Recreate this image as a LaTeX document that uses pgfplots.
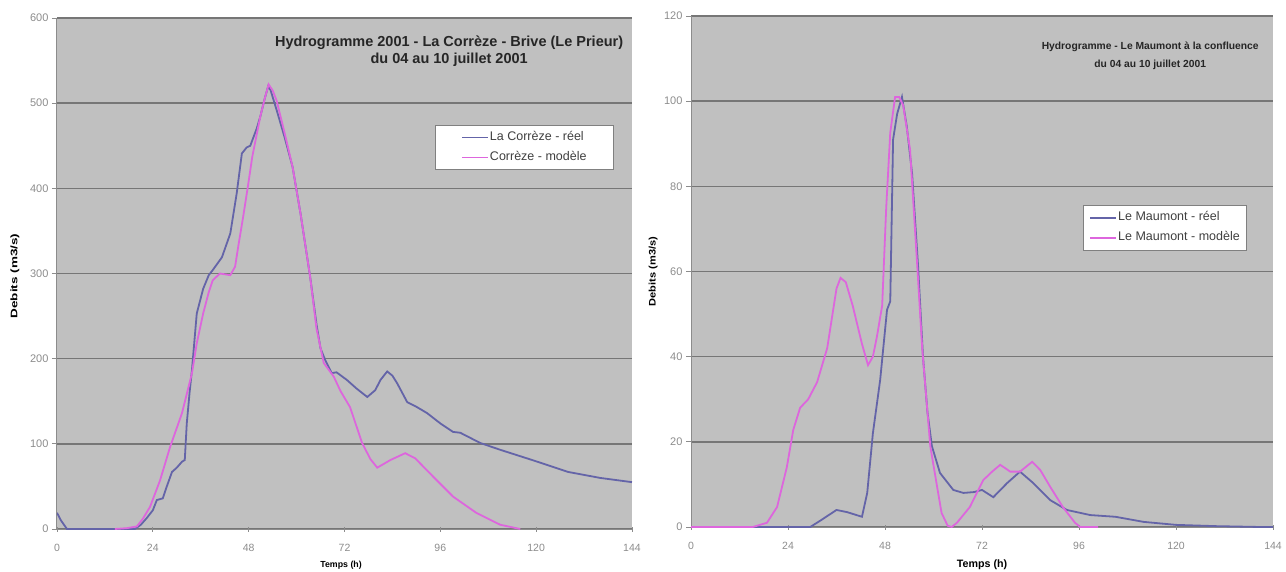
\documentclass[border=0pt]{standalone}
\usepackage{fontspec}
\setmainfont{Liberation Sans}
\usepackage{pgfplots}
\pgfplotsset{compat=1.18}
\definecolor{reel}{HTML}{6464A8}
\definecolor{modele}{HTML}{DD66DD}
\definecolor{plotbg}{HTML}{C0C0C0}
\definecolor{gridc}{HTML}{767676}
\definecolor{tickc}{HTML}{8C8C8C}
\pgfplotsset{
  hydro/.style={
    scale only axis, anchor=south west,
    axis background/.style={fill=plotbg},
    axis x line*=bottom, axis y line*=left,
    axis line style={-, draw=tickc, line width=1pt},
    xmin=0, xmax=144, xtick={0,24,...,144},
    ymajorgrids, major grid style={gridc, line width=1.5pt},
    tick style={draw=tickc, line width=0.8pt},
    major tick length=5pt,
    xtick align=center, ytick align=outside,
    tick label style={text=tickc},
    yticklabel style={font=\fontsize{11}{13}\selectfont},
    xticklabel style={font=\fontsize{10.5}{12}\selectfont, yshift=-9pt},
    /pgf/number format/assume math mode=true,
    legend style={font=\fontsize{12.5}{14}\selectfont, text=black!75, draw=gray,
                  line width=0.8pt, fill=white, row sep=8.5pt, inner ysep=6.5pt,
                  anchor=north west,
                  nodes={inner xsep=1pt, inner ysep=0pt, text height=9pt, text depth=2.5pt}},
    legend cell align=left,
    every axis plot/.append style={line width=1.8pt},
  },
  serie reel/.style={draw=reel,
    legend image code/.code={\draw[draw=reel, line width=1.8pt] (0pt,0pt) -- (26pt,0pt);}},
  serie modele/.style={draw=modele,
    legend image code/.code={\draw[draw=modele, line width=1.8pt] (0pt,0pt) -- (26pt,0pt);}},
}
\tikzset{
  titre/.style={font=\bfseries, align=center, text=black!85},
}

\begin{document}
\begin{tikzpicture}
\useasboundingbox (0,0) rectangle (1286pt,571pt);

% --- La Correze ---
\begin{axis}[
  hydro, at={(57pt,42pt)}, width=575pt, height=511pt,
  ymin=0, ymax=600, ytick={0,100,...,600},
  xlabel={\fontsize{8.8}{10}\selectfont\bfseries Temps (h)},
  ylabel={\fontsize{9.5}{11}\selectfont\scalebox{1.42}[1]{\bfseries Debits (m3/s)}},
  xlabel style={at={(axis description cs:0.494,-0.07)}, anchor=center},
  ylabel style={at={(axis description cs:-0.073,0.495)}, anchor=center},
  legend style={at={(0.657,0.791)}, inner xsep=26pt},
]
\addplot[serie reel] coordinates {
  (0,19) (1,10) (2.5,0) (10,0) (19.5,0) (21,5) (22.5,13) (24,22) (25,34) (26.5,36)
  (27.5,50) (28.8,67) (30,72) (31.3,79) (32,81) (32.5,124) (33.2,160) (33.8,187)
  (35,253) (36.6,282) (38,298) (39,304) (41.3,319) (43.4,347) (45,394) (46.3,441)
  (47.5,448) (48.4,450) (50,470) (50.9,484) (52,505) (52.9,520) (53.5,515) (55,492)
  (57,460) (59,425) (61,370) (63.4,296) (65,240) (66,212) (67.2,198) (68.8,183)
  (70,184) (72.6,175) (75,165) (77.7,155) (79.7,163) (81,175) (82.7,185) (84,180)
  (85.2,171) (87.7,149) (90.2,143) (92.7,136) (96,124) (99.2,114) (101,113) (106,101)
  (111,93) (119,81) (128,67) (136,60) (144,55)
};
\addlegendentry{La Corrèze - réel}
\addplot[serie modele] coordinates {
  (14.5,0) (17.5,1) (20,3) (21.5,12) (23.3,26) (25.8,57) (28.3,96) (31.3,136)
  (33.8,183) (35,218) (36.6,253) (38,278) (39,292) (40.8,300) (43.4,298) (44.6,308)
  (45.5,335) (46.6,366) (47.8,402) (48.9,437) (50.9,484) (52,505) (53,522) (54,515)
  (55,503) (57,465) (59,425) (61,370) (63.4,296) (65,235) (66.8,195) (69.3,179)
  (71,162) (73.4,143) (76.4,101) (78.5,82) (80.2,72) (83.5,81) (87.2,89) (89.7,83)
  (92,72) (94.3,61) (99.2,38) (105,19) (111,5) (116,0)
};
\addlegendentry{Corrèze - modèle}
\node[titre, font=\fontsize{14.5}{17.5}\selectfont\bfseries] at (rel axis cs:0.682,0.935)
  {Hydrogramme 2001 - La Corrèze - Brive (Le Prieur)\\du 04 au 10 juillet 2001};
\end{axis}

% --- Le Maumont ---
\begin{axis}[
  hydro, at={(691pt,44pt)}, width=582pt, height=511pt,
  ymin=0, ymax=120, ytick={0,20,...,120},
  xlabel={\fontsize{10.7}{12}\selectfont\bfseries Temps (h)},
  ylabel={\fontsize{9.5}{11}\selectfont\scalebox{1.16}[1]{\bfseries Debits (m3/s)}},
  xlabel style={at={(axis description cs:0.5,-0.074)}, anchor=center},
  ylabel style={at={(axis description cs:-0.065,0.5)}, anchor=center},
  legend style={at={(0.6735,0.630)}, inner xsep=6pt},
]
\addplot[serie reel] coordinates {
  (0,0) (29.5,0) (32,1.5) (36,4) (38.6,3.5) (42.3,2.4) (43.6,8) (45,22) (46.8,34.5)
  (48.5,51) (49.3,53) (50,91) (51,97) (52.2,101) (53.4,94) (54.7,83) (56.2,61)
  (57.4,40) (58.5,27) (59.6,19) (61.6,12.7) (64.9,8.7) (67.4,8) (70,8.2) (72,8.7)
  (74.8,7) (78.2,10.3) (81.4,13) (84.7,10.3) (88.9,6.3) (93,4) (98.8,2.8) (105,2.4)
  (112,1.2) (120,0.5) (130,0.2) (141,0) (144,0)
};
\addlegendentry{Le Maumont - réel}
\addplot[serie modele] coordinates {
  (0,0) (15.3,0) (18.8,1) (21.3,4.7) (23.7,14) (25.3,22.8) (27,28) (29,30) (31.2,34)
  (33.7,42) (36,56) (37,58.5) (38.3,57.5) (40,52) (42.3,43) (43.8,38) (45,40)
  (46,44.7) (47.3,52) (48.3,75) (49.3,92.6) (50.5,101) (51.5,101) (52.5,99)
  (54.2,88.6) (56,61) (57.2,42) (59.2,19) (60.9,9.4) (62,3.3) (63.5,0.3) (64.5,0)
  (65.8,1) (69,4.7) (72.3,11) (74.5,13) (76.5,14.6) (79,13) (81.4,13) (84.4,15.3)
  (86.4,13.4) (88.9,9.4) (92,4.7) (95,1) (96.3,0) (100.7,0)
};
\addlegendentry{Le Maumont - modèle}
\node[titre, font=\fontsize{10.3}{18}\selectfont\bfseries] at (rel axis cs:0.789,0.922)
  {Hydrogramme - Le Maumont à la confluence\\du 04 au 10 juillet 2001};
\end{axis}
\end{tikzpicture}
\end{document}
